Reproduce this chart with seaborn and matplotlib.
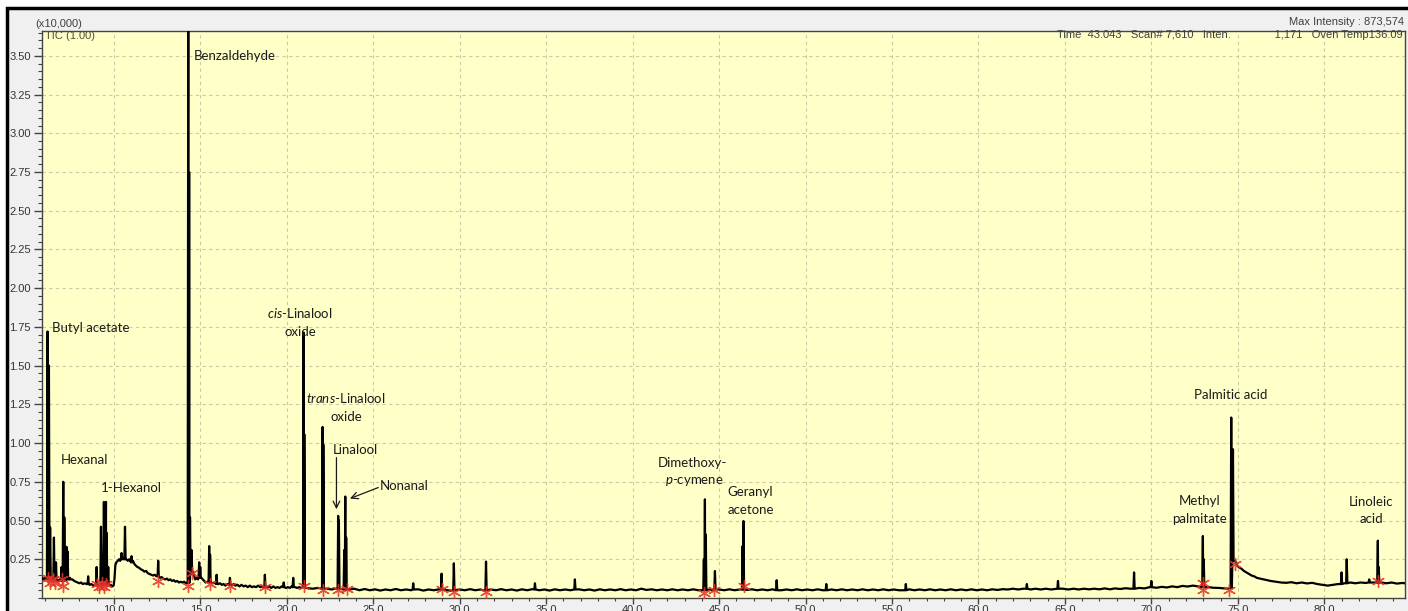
import numpy as np
import pandas as pd
import seaborn as sns
import matplotlib.pyplot as plt
from matplotlib.patches import Rectangle
from matplotlib.ticker import MultipleLocator, FormatStrFormatter

# TIC baseline knots: retention time (min) and intensity (x10,000)
baseline_rt = [
    5.84, 5.92, 6.0, 6.08, 6.38, 6.44, 6.6, 6.78, 6.86, 7.18, 7.38, 7.52, 7.6, 7.7, 7.8, 7.9,
    8.0, 8.1, 8.2, 8.3, 8.42, 8.6, 8.7, 8.8, 8.9, 9.08, 9.34, 9.48, 9.75, 9.82, 9.9, 9.98,
    10.03, 10.08, 10.14, 10.22, 10.3, 10.36, 10.52, 10.56, 10.72, 10.8, 10.88, 10.96, 11.1, 11.18,
    11.26, 11.36, 11.46, 11.56, 11.66, 11.76, 11.86, 11.96, 12.06, 12.16, 12.26, 12.36, 12.46,
    12.66, 12.76, 12.86, 12.96, 13.06, 13.16, 13.26, 13.36, 13.46, 13.56, 13.66, 13.76, 13.86,
    13.96, 14.06, 14.16, 14.24,
    14.55, 14.62, 14.7, 14.78, 14.86, 15.06, 15.14, 15.22, 15.3, 15.4, 15.64, 15.72, 15.8, 16.04,
    16.14, 16.24, 16.34, 16.44, 16.56, 16.64, 16.82, 16.92, 17.02, 17.14, 17.26, 17.38, 17.5,
    17.62, 17.74, 17.86, 17.98, 18.1, 18.22, 18.34, 18.46, 18.58, 18.86, 18.98, 19.1, 19.22,
    19.34, 19.46, 19.58, 19.7, 19.94, 20.06, 20.18, 20.28, 20.48, 20.6, 20.72, 20.84,
    21.1, 21.5, 21.8, 22.3, 22.6, 22.75, 23.6, 23.9, 24.2, 24.5, 24.8, 25.1, 25.4, 25.7, 26.0,
    26.3, 26.6, 26.9, 27.2, 27.6, 27.9, 28.2, 28.5, 28.8, 29.3, 29.5, 30.0, 30.3, 30.6, 30.9,
    31.2, 31.4, 31.8, 32.1, 32.4, 32.7, 33.0, 33.3, 33.6, 33.9, 34.2, 34.6, 34.9, 35.2, 35.5,
    35.8, 36.1, 36.4, 36.9, 37.2, 37.5, 37.8, 38.1, 38.4, 38.7, 39.0, 39.3, 39.6, 39.9, 40.2,
    40.5, 40.8, 41.1, 41.4, 41.7, 42.0, 42.3, 42.6, 42.9, 43.2, 43.5, 43.8, 44.45, 44.6, 45.0,
    45.3, 45.6, 45.9, 46.2, 46.6, 46.9, 47.2, 47.5, 47.8, 48.1, 48.6, 48.9, 49.2, 49.5, 49.8,
    50.1, 50.4, 50.7, 51.0, 51.5, 51.8, 52.1, 52.4, 52.7, 53.0, 53.3, 53.6, 53.9, 54.2, 54.5,
    54.8, 55.1, 55.4, 56.0, 56.3, 56.6, 56.9, 57.2, 57.5, 57.8, 58.1, 58.4, 58.7, 59.0, 59.3,
    59.6, 59.9, 60.2, 60.5, 60.8, 61.1, 61.4, 61.7, 62.0, 62.3, 62.6, 63.0, 63.3, 63.6, 63.9,
    64.2, 64.9, 65.2, 65.5, 65.8, 66.1, 66.4, 66.7, 67.0, 67.3, 67.6, 67.9, 68.2, 68.5, 68.8,
    69.3, 69.6, 69.9, 70.3, 70.6, 70.9, 71.2, 71.5, 71.8, 72.1, 72.4, 72.7, 73.3, 73.6, 73.9,
    74.2, 74.45,
    74.85, 74.95, 75.05, 75.2, 75.35, 75.5, 75.65, 75.8, 75.95, 76.1, 76.3, 76.5, 76.7, 76.9,
    77.2, 77.5, 77.8, 78.1, 78.4, 78.7, 79.0, 79.3, 79.6, 79.9, 80.2, 80.5, 80.8, 81.15, 81.5,
    81.8, 82.1, 82.4, 82.8, 83.3, 83.6, 83.9, 84.2, 84.5, 84.67,
]
baseline_int = [
    .13, .12, .13, .12, .11, .12, .12, .11, .12, .11, .12, .13, .12, .11, .105, .10,
    .095, .10, .09, .095, .09, .085, .09, .08, .085, .08, .085, .09, .08, .085, .075, .08,
    .12, .21, .23, .24, .25, .24, .26, .25, .25, .24, .25, .23, .24, .22,
    .21, .20, .195, .185, .18, .17, .175, .16, .155, .15, .145, .15, .14,
    .13, .135, .125, .12, .125, .115, .12, .11, .115, .105, .11, .10, .105,
    .10, .105, .095, .10,
    .17, .15, .12, .13, .12, .13, .12, .11, .10, .105, .10, .095, .10, .09,
    .095, .085, .09, .08, .09, .085, .08, .09, .08, .085, .075, .085, .075,
    .08, .07, .08, .07, .075, .07, .08, .07, .075, .07, .075, .065, .075,
    .065, .07, .065, .075, .065, .07, .065, .075, .07, .065, .07, .065,
    .065, .06, .065, .06, .055, .06, .055, .06, .05, .058, .05, .056, .048, .055, .05,
    .058, .05, .055, .05, .056, .048, .055, .05, .056, .05, .047, .055, .05, .057, .05,
    .055, .048, .055, .05, .057, .05, .055, .048, .056, .05, .057, .05, .055, .048, .056,
    .05, .055, .05, .056, .05, .055, .048, .056, .05, .055, .05, .057, .05, .055, .05,
    .06, .052, .056, .05, .055, .05, .056, .05, .055, .05, .056, .05, .055, .05, .055,
    .05, .056, .05, .055, .052, .056, .05, .055, .05, .056, .05, .055, .05, .056, .05,
    .055, .05, .056, .05, .055, .05, .056, .05, .055, .05, .056, .05, .055, .05, .056,
    .05, .055, .05, .056, .05, .055, .05, .056, .05, .055, .05, .056, .05, .055, .05,
    .056, .05, .055, .05, .056, .052, .057, .055, .06, .055, .06, .055, .06, .055, .06,
    .055, .06, .055, .06, .055, .06, .056, .06, .056, .062, .056, .062, .058, .063, .06,
    .065, .062, .07, .066, .072, .068, .075, .07, .078, .074, .08, .075, .07, .066, .065,
    .062, .06,
    .24, .21, .20, .19, .175, .165, .155, .145, .14, .13, .125, .12, .115, .11,
    .105, .10, .098, .102, .095, .10, .094, .098, .09, .085, .08, .085, .09, .095, .10,
    .095, .10, .097, .10, .10, .095, .10, .093, .097, .095,
]

# peaks: apex time, apex height, level at the foot of the peak
peak_rt = [6.16, 6.24, 6.31, 6.53, 6.65, 6.97, 7.07, 7.13, 7.26, 7.32, 7.46, 8.51, 9.0,
           9.25, 9.42, 9.54, 9.58, 9.67, 10.44, 10.64, 11.02, 12.56, 14.30, 14.35, 14.40,
           14.49, 14.93, 14.99, 15.51, 15.56, 15.94, 16.71, 18.73, 19.82, 20.37, 20.97,
           21.01, 22.07, 22.11, 22.97, 23.01, 23.32, 23.38, 23.43, 27.31, 28.95, 29.66,
           31.52, 34.35, 36.66, 44.12, 44.18, 44.23, 44.76, 46.36, 46.41, 48.33, 51.2,
           55.8, 62.8, 64.6, 69.0, 70.0, 72.98, 73.03, 74.62, 74.72, 81.0, 81.3, 82.6,
           83.1, 83.15]
peak_top = [1.72, 1.50, .455, .39, .23, .20, .75, .52, .33, .30, .13, .14, .20,
            .46, .62, .62, .42, .20, .29, .46, .27, .24, 3.9, 2.75, .52,
            .31, .23, .20, .335, .28, .15, .13, .15, .10, .13, 1.713,
            1.057, 1.104, .99, .53, .50, .31, .655, .39, .095, .157, .224,
            .235, .095, .12, .25, .637, .41, .174, .335, .497, .115, .09,
            .09, .09, .11, .165, .11, .40, .25, 1.165, .96, .165, .25, .12,
            .37, .20]
peak_foot = [.12, .12, .12, .12, .11, .11, .11, .11, .12, .12, .12, .09, .08,
             .085, .09, .09, .09, .085, .25, .25, .23, .14, .095, .10, .15,
             .17, .13, .13, .11, .10, .09, .085, .07, .07, .07, .07,
             .07, .06, .06, .06, .06, .055, .055, .055, .055, .055, .05,
             .05, .055, .055, .05, .05, .05, .055, .055, .055, .05, .05,
             .05, .06, .06, .06, .07, .07, .07, .065, .24, .09, .095, .10,
             .10, .10]

# integration marks (red asterisks)
mark_rt = [6.18, 6.3, 6.45, 6.58, 6.98, 7.07, 9.0, 9.15, 9.3, 9.45, 9.55, 12.56, 14.26,
           14.49, 15.55, 16.71, 18.73, 20.97, 22.07, 22.95, 23.47, 28.95, 29.66, 31.52,
           44.1, 44.73, 46.46, 72.98, 72.98, 74.5, 74.85, 83.1]
mark_int = [.13, .10, .12, .10, .12, .08, .09, .07, .10, .07, .09, .11, .08,
            .16, .09, .08, .07, .08, .05, .05, .06, .06, .04, .04,
            .03, .05, .08, .10, .05, .05, .22, .11]

# compound labels: text, retention time, intensity, alignment
label_text = ["Butyl acetate", "Benzaldehyde", r"$\mathit{cis}$-Linalool", "oxide",
              r"$\mathit{trans}$-Linalool", "oxide", "Linalool", "Nonanal", "Hexanal",
              "1-Hexanol", "Dimethoxy-", r"$\mathit{p}$-cymene", "Geranyl", "acetone",
              "Palmitic acid", "Methyl", "palmitate", "Linoleic", "acid"]
label_rt = [6.41, 17.0, 20.76, 20.79, 23.41, 23.42, 23.94, 25.38, 8.32,
            11.0, 43.43, 43.56, 46.81, 46.84, 74.6, 72.8, 72.8, 82.7, 82.74]
label_int = [1.74, 3.50, 1.84, 1.72, 1.29, 1.17, 0.955, 0.72, 0.89,
             0.713, 0.87, 0.753, 0.684, 0.568, 1.31, 0.626, 0.508, 0.62, 0.508]
label_ha = ["left", "center", "center", "center", "center", "center", "center", "left",
            "center", "center", "center", "center", "center", "center", "center",
            "center", "center", "center", "center"]

sns.set_style("ticks")
plt.rcParams["font.family"] = ["Liberation Sans", "DejaVu Sans"]
plt.rcParams["mathtext.fontset"] = "custom"
plt.rcParams["mathtext.rm"] = "Lato"
plt.rcParams["mathtext.it"] = "Lato:italic"

# assemble the trace from baseline knots and peak spikes
base = pd.DataFrame({"rt": baseline_rt, "tic": baseline_int})
peaks = pd.DataFrame({"rt": peak_rt, "top": peak_top, "foot": peak_foot})
hw = 0.035
dist = np.abs(base["rt"].values[:, None] - peaks["rt"].values[None, :]).min(axis=1)
spikes = pd.concat([
    pd.DataFrame({"rt": peaks["rt"] - hw, "tic": peaks["foot"]}),
    pd.DataFrame({"rt": peaks["rt"], "tic": peaks["top"]}),
    pd.DataFrame({"rt": peaks["rt"] + hw, "tic": peaks["foot"]}),
])
trace = pd.concat([base[dist > 0.06], spikes]).sort_values("rt", kind="stable")
marks = pd.DataFrame({"rt": mark_rt, "tic": mark_int})

W, H = 1408, 611
fig = plt.figure(figsize=(W / 100, H / 100), dpi=100)
fig.patch.set_facecolor("white")
fig.add_artist(Rectangle((7 / W, -0.2), 1.2, 1 - 8 / H + 0.2, transform=fig.transFigure,
                         facecolor="#f0f0f0", edgecolor="black", lw=2.5, zorder=-5))
ax = fig.add_axes([42 / W, 13 / H, (1405 - 42) / W, (599 - 32) / H])
ax.set_facecolor("#ffffc8")

sns.lineplot(data=trace, x="rt", y="tic", estimator=None, sort=False, color="black",
             lw=1.6, ax=ax, zorder=3)
sns.scatterplot(data=marks, x="rt", y="tic", marker=(6, 2, 0), color="#e3342a", s=75,
                linewidth=1.0, alpha=0.85, ax=ax, zorder=4)

ax.set_xlim(5.84, 84.67)
ax.set_ylim(0, 3.66)
ax.xaxis.set_major_locator(MultipleLocator(5))
ax.xaxis.set_minor_locator(MultipleLocator(1))
ax.xaxis.set_major_formatter(FormatStrFormatter("%.1f"))
ax.set_yticks([0.25 * i for i in range(1, 15)])
ax.yaxis.set_minor_locator(MultipleLocator(0.05))
ax.yaxis.set_major_formatter(FormatStrFormatter("%.2f"))
ax.tick_params(which="major", direction="out", length=6, width=1, color="#444444",
               labelsize=8, labelcolor="#333333", pad=2)
ax.tick_params(which="minor", direction="out", length=3, width=0.8, color="#444444")
ax.tick_params(axis="x", which="major", length=4, pad=1)
ax.tick_params(axis="x", which="minor", length=2)
ax.set_xlabel("")
ax.set_ylabel("")
ax.grid(which="major", color="#cdc9a5", linestyle=(0, (3, 3)), lw=0.8)
ax.set_axisbelow(True)
for sp in ax.spines.values():
    sp.set_color("#444444")
    sp.set_linewidth(1.0)

for txt, x, y, ha in zip(label_text, label_rt, label_int, label_ha):
    ax.text(x, y, txt, ha=ha, va="center", fontsize=9.5, family="Lato", color="#1a1a1a",
            zorder=5)

arrow = dict(arrowstyle="->", color="#1a1a1a", lw=0.9, shrinkA=0, shrinkB=0,
             mutation_scale=12)
ax.annotate("", xy=(22.87, 0.573), xytext=(22.87, 0.906), arrowprops=arrow, zorder=5)
ax.annotate("", xy=(23.65, 0.642), xytext=(25.29, 0.713), arrowprops=arrow, zorder=5)

# instrument header
fig.text(35 / W, 1 - 24 / H, "(x10,000)", fontsize=8, color="#404040", va="center")
ax.text(0.002, 1 - 5 / 567, "TIC (1.00)", transform=ax.transAxes, fontsize=8,
        color="#505030", va="center", ha="left", zorder=5)
fig.text(1404 / W, 1 - 22 / H, "Max Intensity : 873,574", fontsize=8, color="#404040",
         va="center", ha="right")
ax.text(0.998, 1 - 4 / 567,
        "Time  43.043   Scan# 7,610   Inten.              1,171   Oven Temp136.09",
        transform=ax.transAxes, fontsize=8, color="#404040", va="center", ha="right",
        zorder=5)

fig.savefig("out.png", dpi=100)
